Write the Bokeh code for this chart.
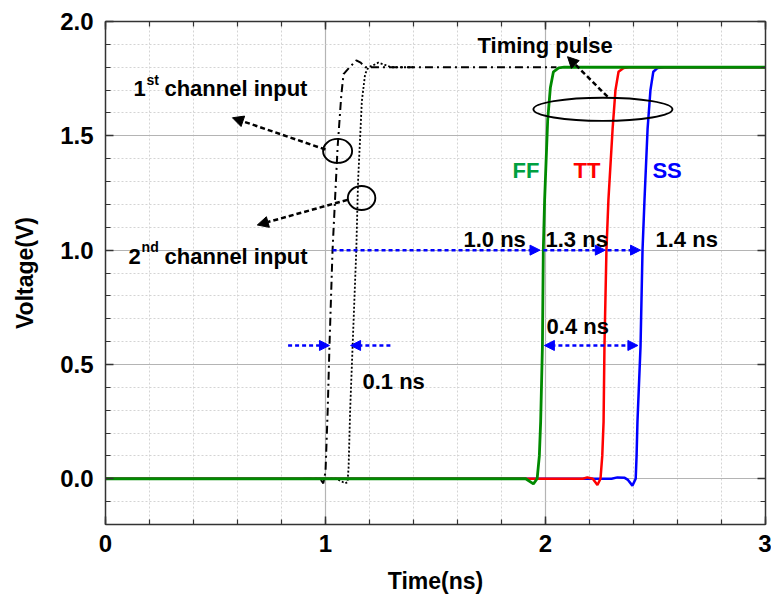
from bokeh.plotting import figure
from bokeh.models import Range1d, LinearAxis, SingleIntervalTicker, Arrow, NormalHead, PrintfTickFormatter
from bokeh.core.properties import value
from bokeh.embed import file_html
from bokeh.resources import INLINE

# ---------------- data ----------------
# 1st channel input (dash-dot, black)
t_ch1 = [0.90, 0.975, 0.99, 1.0, 1.01, 1.018, 1.032, 1.055, 1.072, 1.082, 1.11, 1.14, 1.16, 1.18, 2.05]
v_ch1 = [0.0, 0.0, -0.02, 0.03, 0.3, 0.58, 1.0, 1.45, 1.68, 1.77, 1.80, 1.83, 1.82, 1.80, 1.80]
# 2nd channel input (dotted, black)
t_ch2 = [0.95, 1.05, 1.09, 1.10, 1.105, 1.112, 1.124, 1.14, 1.148, 1.165, 1.18, 1.195, 1.22, 1.24, 1.27, 1.30, 1.40]
v_ch2 = [0.0, 0.0, -0.02, -0.015, 0.05, 0.3, 0.6, 1.0, 1.3, 1.65, 1.77, 1.80, 1.81, 1.82, 1.81, 1.80, 1.80]
# FF corner timing pulse (green)
t_ff = [0.0, 1.91, 1.945, 1.962, 1.972, 1.978, 1.986, 1.99, 1.996, 2.01, 2.022, 2.036, 2.06, 2.085, 3.0]
v_ff = [0.0, 0.0, -0.022, 0.0, 0.1, 0.25, 0.58, 1.0, 1.22, 1.57, 1.71, 1.78, 1.797, 1.8, 1.8]
# TT corner timing pulse (red)
t_tt = [0.0, 2.17, 2.19, 2.215, 2.236, 2.25, 2.258, 2.264, 2.268, 2.277, 2.286, 2.305, 2.318, 2.332, 2.355, 2.38, 3.0]
v_tt = [0.0, 0.0, 0.006, 0.0, -0.027, 0.0, 0.1, 0.25, 0.58, 1.0, 1.22, 1.53, 1.7, 1.78, 1.797, 1.8, 1.8]
# SS corner timing pulse (blue)
t_ss = [0.0, 2.30, 2.327, 2.36, 2.375, 2.395, 2.41, 2.414, 2.418, 2.432, 2.441, 2.45, 2.464, 2.477, 2.49, 2.51, 2.54, 3.0]
v_ss = [0.0, 0.0, 0.006, 0.004, -0.005, -0.03, 0.0, 0.1, 0.25, 0.58, 1.0, 1.22, 1.53, 1.7, 1.78, 1.797, 1.8, 1.8]

ch1_at_half = 1.018
ch2_at_half = 1.114
ch1_at_1v = 1.032
ff_at_1v = 1.975
tt_at_1v = 2.272
ss_at_1v = 2.432
ff_at_half = 1.995
ss_at_half = 2.42
level_1v = 1.0
level_half = 0.583

x_ticks_labels = ["0", "1", "2", "3"]

FONT = "Liberation Sans"
GREEN = "#008a00"
RED = "#ff0000"
BLUE = "#0000ff"

p = figure(frame_width=660, frame_height=503,
           x_range=Range1d(0, 3), y_range=Range1d(-0.2, 2.0),
           output_backend="svg", toolbar_location=None,
           min_border_left=105, min_border_top=21, min_border_right=6, min_border_bottom=72,
           background_fill_color="white", border_fill_color="white")
p.outline_line_color = "#333333"

# axes
def style_axis(ax, show_labels):
    ax.axis_line_color = "#333333"
    ax.axis_line_width = 1.5
    ax.major_tick_line_color = "#333333"
    ax.minor_tick_line_color = "#333333"
    ax.major_tick_line_width = 1.5
    ax.minor_tick_line_width = 1.2
    ax.major_tick_in = 8
    ax.major_tick_out = 0
    ax.minor_tick_in = 5
    ax.minor_tick_out = 0
    if show_labels:
        ax.major_label_text_font = FONT
        ax.major_label_text_font_style = "bold"
        ax.major_label_text_font_size = "24px"
        ax.major_label_text_color = "black"
        ax.major_label_standoff = 10
        ax.axis_label_text_font = FONT
        ax.axis_label_text_font_style = "bold"
        ax.axis_label_text_font_size = "23px"
        ax.axis_label_text_color = "black"
    else:
        ax.major_label_text_color = None
        ax.major_label_text_font_size = "1px"
        ax.major_label_standoff = 0

p.xaxis.ticker = SingleIntervalTicker(interval=1, num_minor_ticks=5)
p.yaxis.ticker = SingleIntervalTicker(interval=0.5, num_minor_ticks=5)
p.xaxis.major_label_overrides = {i: s for i, s in enumerate(x_ticks_labels)}
p.yaxis.formatter = PrintfTickFormatter(format="%.1f")
p.xaxis.axis_label = "Time(ns)"
p.yaxis.axis_label = "Voltage(V)"
style_axis(p.xaxis[0], True)
style_axis(p.yaxis[0], True)
p.yaxis.major_label_standoff = 12
p.xaxis.axis_label_standoff = 13
p.yaxis.axis_label_standoff = 19

top = LinearAxis(ticker=SingleIntervalTicker(interval=1, num_minor_ticks=5))
right = LinearAxis(ticker=SingleIntervalTicker(interval=0.5, num_minor_ticks=5))
style_axis(top, False)
style_axis(right, False)
p.add_layout(top, "above")
p.add_layout(right, "right")

# grid
for g in (p.xgrid[0], p.ygrid[0]):
    g.grid_line_color = "#b4b4b4"
    g.grid_line_width = 1.2
    g.minor_grid_line_color = "#d4d4d4"
    g.minor_grid_line_dash = "2 2"
    g.minor_grid_line_width = 1

# curves
p.line(t_ch1, v_ch1, line_color="black", line_width=2, line_dash="8 4 2 4")
p.line(t_ch2, v_ch2, line_color="black", line_width=1.8, line_dash="2 2")
p.line(t_ss, v_ss, line_color=BLUE, line_width=2.5)
p.line(t_tt, v_tt, line_color=RED, line_width=2.5)
p.line(t_ff, v_ff, line_color=GREEN, line_width=2.8)

# ellipses (circled regions)
p.ellipse(x=[1.055, 1.164], y=[1.434, 1.228], width=[0.132, 0.125], height=[0.105, 0.105],
          fill_color=None, line_color="black", line_width=1.9)
p.ellipse(x=[2.261], y=[1.616], width=[0.632], height=[0.101],
          fill_color=None, line_color="black", line_width=1.9)

# black dashed pointer arrows
def blk_arrow(x0, y0, x1, y1):
    p.add_layout(Arrow(end=NormalHead(size=11, fill_color="black", line_color="black"),
                       x_start=x0, y_start=y0, x_end=x1, y_end=y1,
                       line_color="black", line_width=2.5, line_dash="5 3"))

blk_arrow(1.0, 1.44, 0.577, 1.579)
blk_arrow(1.10, 1.22, 0.69, 1.11)
blk_arrow(2.282, 1.671, 2.10, 1.846)

# blue dotted measurement arrows
def blue_arrow(x0, y0, x1, y1, both=False):
    kw = {}
    if both:
        kw["start"] = NormalHead(size=10, fill_color=BLUE, line_color=BLUE)
    p.add_layout(Arrow(end=NormalHead(size=10, fill_color=BLUE, line_color=BLUE),
                       x_start=x0, y_start=y0, x_end=x1, y_end=y1,
                       line_color=BLUE, line_width=2.5, line_dash="4 3", **kw))

blue_arrow(ch1_at_1v, level_1v, ff_at_1v, level_1v)
blue_arrow(ff_at_1v + 0.015, level_1v, tt_at_1v, level_1v)
blue_arrow(tt_at_1v + 0.01, level_1v, ss_at_1v, level_1v)
blue_arrow(ff_at_half, level_half, ss_at_half, level_half, both=True)
blue_arrow(0.83, level_half, ch1_at_half, level_half)
blue_arrow(1.295, level_half, ch2_at_half, level_half)

# texts
def txt(x, y, s, color="black", size="22px", dx=0, dy=0):
    p.text(x=[x], y=[y], text=[s], text_font=value(FONT), text_font_style="bold",
           text_font_size=size, text_color=color, text_align="left",
           text_baseline="alphabetic", x_offset=dx, y_offset=dy - 6)

txt(0.127, 1.68, "1")
txt(0.127, 1.68, "st", size="14px", dx=13, dy=-9)
txt(0.127, 1.68, "channel input", dx=31)
txt(0.105, 0.947, "2")
txt(0.105, 0.947, "nd", size="14px", dx=13, dy=-9)
txt(0.105, 0.947, "channel input", dx=36)
txt(1.691, 1.868, "Timing pulse")
txt(1.85, 1.32, "FF", color="#00a040")
txt(2.127, 1.32, "TT", color=RED)
txt(2.486, 1.32, "SS", color=BLUE)
txt(1.627, 1.022, "1.0 ns")
txt(2.0, 1.022, "1.3 ns")
txt(2.5, 1.022, "1.4 ns")
txt(2.005, 0.64, "0.4 ns")
txt(1.168, 0.40, "0.1 ns")

open("out.html", "w").write(file_html(p, INLINE))
